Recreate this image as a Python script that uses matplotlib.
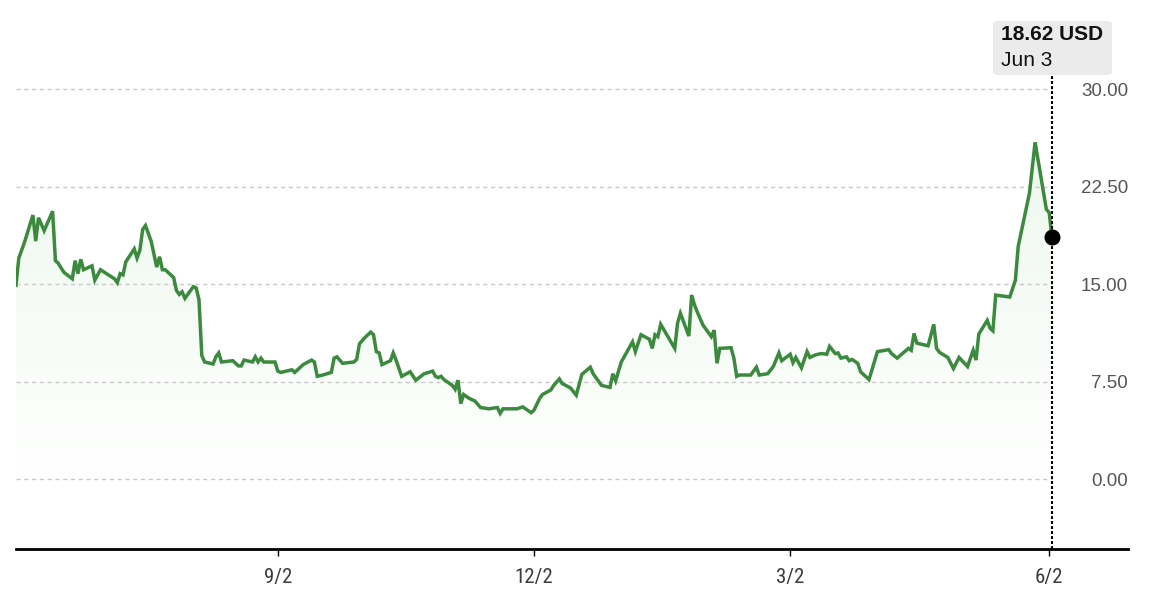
import numpy as np
import pandas as pd
import matplotlib
matplotlib.use("Agg")
import matplotlib.pyplot as plt
import matplotlib.dates as mdates
from matplotlib.patches import FancyBboxPatch
from matplotlib import font_manager

# Price history (one year, ending Jun 3 2024)
dates = [
    "2023-06-01", "2023-06-02", "2023-06-04", "2023-06-07", "2023-06-08", "2023-06-09",
    "2023-06-11", "2023-06-14", "2023-06-15", "2023-06-16", "2023-06-18", "2023-06-21",
    "2023-06-22", "2023-06-23", "2023-06-24", "2023-06-25", "2023-06-28", "2023-06-29",
    "2023-07-01", "2023-07-06", "2023-07-07", "2023-07-08", "2023-07-09", "2023-07-10",
    "2023-07-13", "2023-07-14", "2023-07-15", "2023-07-16", "2023-07-17", "2023-07-19",
    "2023-07-21", "2023-07-22", "2023-07-23", "2023-07-24", "2023-07-27", "2023-07-28",
    "2023-07-29", "2023-07-30", "2023-07-31", "2023-08-03", "2023-08-04", "2023-08-05",
    "2023-08-06", "2023-08-07", "2023-08-10", "2023-08-11", "2023-08-12", "2023-08-13",
    "2023-08-17", "2023-08-19", "2023-08-20", "2023-08-21", "2023-08-24", "2023-08-25",
    "2023-08-26", "2023-08-27", "2023-08-28", "2023-09-01", "2023-09-02", "2023-09-03",
    "2023-09-07", "2023-09-08", "2023-09-11", "2023-09-14", "2023-09-15", "2023-09-16",
    "2023-09-18", "2023-09-21", "2023-09-22", "2023-09-23", "2023-09-25", "2023-09-29",
    "2023-09-30", "2023-10-01", "2023-10-03", "2023-10-05", "2023-10-06", "2023-10-07",
    "2023-10-08", "2023-10-09", "2023-10-12", "2023-10-13", "2023-10-14", "2023-10-16",
    "2023-10-19", "2023-10-21", "2023-10-24", "2023-10-27", "2023-10-28", "2023-10-29",
    "2023-10-30", "2023-10-31", "2023-11-03", "2023-11-04", "2023-11-05", "2023-11-06",
    "2023-11-07", "2023-11-09", "2023-11-11", "2023-11-13", "2023-11-16", "2023-11-19",
    "2023-11-20", "2023-11-21", "2023-11-24", "2023-11-26", "2023-11-28", "2023-12-01",
    "2023-12-02", "2023-12-04", "2023-12-05", "2023-12-08", "2023-12-09", "2023-12-11",
    "2023-12-12", "2023-12-15", "2023-12-17", "2023-12-19", "2023-12-22", "2023-12-23",
    "2023-12-24", "2023-12-26", "2023-12-29", "2023-12-30", "2023-12-31", "2024-01-02",
    "2024-01-06", "2024-01-07", "2024-01-09", "2024-01-12", "2024-01-13", "2024-01-14",
    "2024-01-15", "2024-01-16", "2024-01-21", "2024-01-22", "2024-01-23", "2024-01-26",
    "2024-01-27", "2024-01-28", "2024-01-29", "2024-01-31", "2024-02-03", "2024-02-04",
    "2024-02-05", "2024-02-06", "2024-02-10", "2024-02-11", "2024-02-12", "2024-02-13",
    "2024-02-17", "2024-02-19", "2024-02-20", "2024-02-23", "2024-02-25", "2024-02-27",
    "2024-02-28", "2024-03-02", "2024-03-03", "2024-03-04", "2024-03-06", "2024-03-08",
    "2024-03-09", "2024-03-11", "2024-03-13", "2024-03-15", "2024-03-16", "2024-03-18",
    "2024-03-19", "2024-03-20", "2024-03-22", "2024-03-23", "2024-03-24", "2024-03-26",
    "2024-03-27", "2024-03-30", "2024-04-02", "2024-04-06", "2024-04-07", "2024-04-09",
    "2024-04-13", "2024-04-14", "2024-04-15", "2024-04-16", "2024-04-20", "2024-04-22",
    "2024-04-23", "2024-04-24", "2024-04-27", "2024-04-29", "2024-05-01", "2024-05-04",
    "2024-05-06", "2024-05-07", "2024-05-08", "2024-05-11", "2024-05-12", "2024-05-13",
    "2024-05-14", "2024-05-19", "2024-05-21", "2024-05-22", "2024-05-26", "2024-05-28",
    "2024-06-01", "2024-06-02", "2024-06-03",
]
prices = [
    14.9, 17.0, 18.2, 20.3, 18.3, 20.1,
    19.1, 20.6, 16.8, 16.6, 15.9, 15.4,
    16.8, 15.8, 16.9, 16.1, 16.4, 15.3,
    16.1, 15.4, 15.1, 15.8, 15.7, 16.7,
    17.7, 17.0, 17.6, 19.2, 19.5, 18.3,
    16.3, 17.1, 16.1, 16.1, 15.5, 14.5,
    14.2, 14.4, 13.9, 14.8, 14.7, 13.8,
    9.5, 9.0, 8.85, 9.4, 9.7, 9.0,
    9.1, 8.7, 8.7, 9.15, 9.0, 9.4,
    9.0, 9.3, 9.0, 9.0, 8.3, 8.2,
    8.4, 8.2, 8.8, 9.15, 9.0, 7.9,
    8.0, 8.2, 9.3, 9.4, 8.9, 9.0,
    9.2, 10.4, 10.9, 11.3, 11.1, 9.8,
    9.7, 8.8, 9.1, 9.7, 9.15, 7.9,
    8.25, 7.6, 8.1, 8.3, 7.9, 7.8,
    7.9, 7.65, 7.2, 6.9, 7.6, 5.8,
    6.5, 6.2, 6.0, 5.5, 5.4, 5.5,
    5.05, 5.4, 5.4, 5.4, 5.55, 5.1,
    5.3, 6.2, 6.5, 6.85, 7.2, 7.7,
    7.35, 7.0, 6.45, 8.05, 8.6, 8.1,
    7.8, 7.2, 7.05, 8.1, 7.55, 9.0,
    10.55, 9.8, 11.1, 10.75, 10.05, 11.1,
    10.95, 11.9, 10.05, 12.0, 12.75, 11.0,
    14.15, 13.4, 12.85, 11.85, 10.95, 11.45,
    8.9, 10.05, 10.1, 9.3, 7.9, 8.0,
    8.0, 8.6, 8.0, 8.1, 8.65, 9.7,
    9.1, 9.6, 8.95, 9.35, 8.55, 9.8,
    9.35, 9.55, 9.65, 9.6, 10.2, 9.65,
    9.7, 9.3, 9.4, 9.1, 9.2, 8.9,
    8.25, 7.65, 9.8, 9.95, 9.65, 9.3,
    10.05, 9.9, 11.2, 10.45, 10.25, 11.9,
    10.05, 9.75, 9.35, 8.5, 9.35, 8.65,
    9.9, 9.15, 11.15, 12.2, 11.6, 11.4,
    14.15, 14.0, 15.3, 17.9, 22.0, 25.9,
    20.75, 20.5, 18.62,
]

y_ticks = [0.0, 7.5, 15.0, 22.5, 30.0]
x_tick_dates = ["2023-09-02", "2023-12-02", "2024-03-02", "2024-06-02"]
x_tick_labels = ["9/2", "12/2", "3/2", "6/2"]
tip_value = "18.62 USD"
tip_date = "Jun 3"

line_color = "#3b8a3e"
grid_color = "#c9c9c9"

# pick a condensed face for the date labels if one is installed
installed = {f.name for f in font_manager.fontManager.ttflist}
narrow = [n for n in ["Liberation Sans Narrow", "DejaVu Sans Condensed", "Roboto Condensed",
                      "Open Sans Condensed"] if n in installed]
x_font = narrow + ["Liberation Sans", "DejaVu Sans"]
x_stretch = "normal" if narrow else "condensed"

x = pd.to_datetime(dates)
y = np.array(prices)
x_num = mdates.date2num(x)

fig = plt.figure(figsize=(11.65, 6.01), dpi=100)
ax = fig.add_axes([16 / 1165, 52 / 601, 1112 / 1165, 549 / 601])

x_lo = mdates.date2num(pd.Timestamp("2023-06-01"))
x_hi = mdates.date2num(pd.Timestamp("2024-06-30"))
y_lo, y_hi = -5.385, 36.85

# gradient fill under the line
poly = ax.fill_between(x_num, y, y_lo, facecolor="none", edgecolor="none")
grad = np.zeros((256, 1, 4))
grad[:, 0, 0] = 76 / 255
grad[:, 0, 1] = 175 / 255
grad[:, 0, 2] = 80 / 255
levels = np.linspace(y_lo, 26, 256)
grad[:, 0, 3] = np.clip((levels + 1) / 27, 0, 1) * 0.1
im = ax.imshow(grad, extent=[x_lo, x_hi, y_lo, 26], aspect="auto",
               origin="lower", zorder=1, interpolation="bilinear")
im.set_clip_path(poly.get_paths()[0], transform=ax.transData)

# dashed horizontal grid lines stop at the last date
ax.hlines(y_ticks, x_lo, x_num[-1], colors=grid_color, linewidth=1,
          linestyles=(0, (3, 2.6)), zorder=2)

ax.plot(x_num, y, color=line_color, linewidth=2.5, solid_joinstyle="miter", zorder=3)

# hover line + marker
ax.vlines(x_num[-1], y_lo, 31.1, colors="black", linewidth=1.5,
          linestyles=(0, (1.4, 1.0)), zorder=4)
ax.plot(x_num[-1], y[-1], "o", color="black", markersize=10.5, zorder=5)

ax.set_xlim(x_lo, x_hi)
ax.set_ylim(y_lo, y_hi)

for side in ["top", "left", "right"]:
    ax.spines[side].set_visible(False)
ax.spines["bottom"].set_linewidth(2)
ax.spines["bottom"].set_color("black")

ax.set_xticks(mdates.date2num(pd.to_datetime(x_tick_dates)))
ax.set_xticklabels(x_tick_labels, family=x_font, stretch=x_stretch,
                   fontsize=15, color="#3a3a3a")
ax.tick_params(axis="x", length=5, width=1, pad=9, color="black")

ax.yaxis.tick_right()
ax.set_yticks(y_ticks)
ax.set_yticklabels([f"{v:.2f}" for v in y_ticks], family=["Liberation Sans", "DejaVu Sans"],
                   fontsize=13.5, color="#555555")
for lbl in ax.get_yticklabels():
    lbl.set_horizontalalignment("right")
ax.tick_params(axis="y", length=0, pad=0)

# tooltip
box = FancyBboxPatch((993 / 1165, 526 / 601), 119 / 1165, 54 / 601,
                     boxstyle="round,pad=0,rounding_size=0.005",
                     transform=fig.transFigure, facecolor="#ebebeb",
                     edgecolor="none", zorder=10)
fig.patches.append(box)
fig.text(1001 / 1165, 566 / 601, tip_value, fontsize=15, fontweight="bold",
         family=["Liberation Sans", "DejaVu Sans"], color="#111111", va="center", zorder=11)
fig.text(1001 / 1165, 541 / 601, tip_date, fontsize=15,
         family=["Liberation Sans", "DejaVu Sans"], color="#111111", va="center", zorder=11)

fig.savefig("out.png", dpi=100)
